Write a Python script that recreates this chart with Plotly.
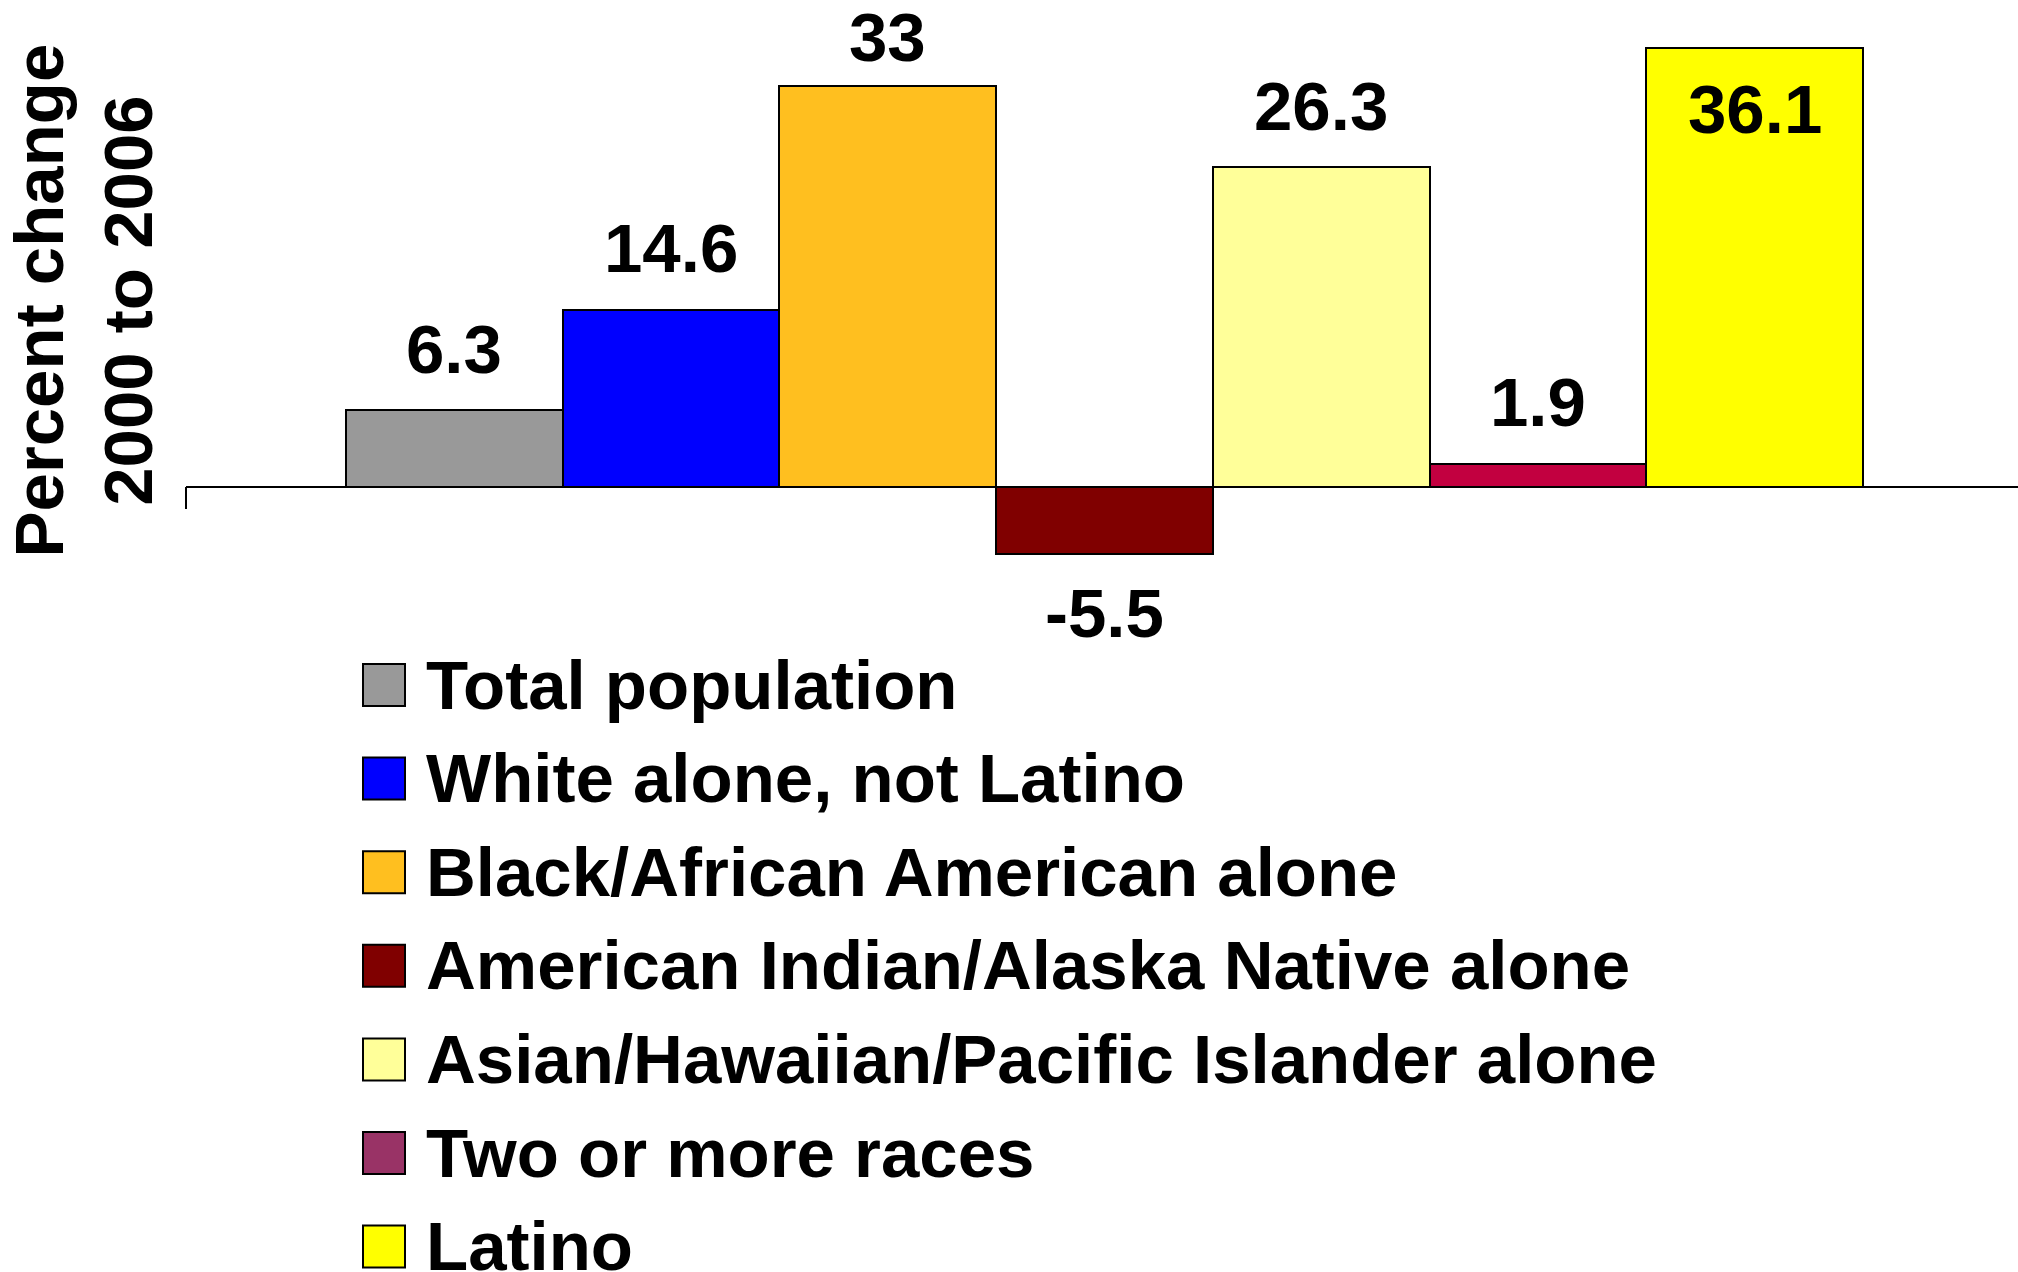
import plotly.graph_objects as go

# ---- data ----
categories = [
    "Total population",
    "White alone, not Latino",
    "Black/African American alone",
    "American Indian/Alaska Native alone",
    "Asian/Hawaiian/Pacific Islander alone",
    "Two or more races",
    "Latino",
]
values = [6.3, 14.6, 33, -5.5, 26.3, 1.9, 36.1]
bar_colors = ["#999999", "#0000FF", "#FFBF1F", "#800000", "#FFFF99", "#C20040", "#FFFF00"]
legend_colors = ["#999999", "#0000FF", "#FFBF1F", "#800000", "#FFFF99", "#993366", "#FFFF00"]
y_title = "Percent change<br>2000 to 2006"

# ---- layout constants (pixels) ----
W, H = 2018, 1272
L = 186
PLOT_TOP, PLOT_BOTTOM = 0, 680
ZERO_PX = 487
PX_PER_UNIT = 12.15
BAR_PX = 216.7
FONT = "Liberation Sans, Arial, sans-serif"
FS = 69

plot_w = W - L
plot_h = PLOT_BOTTOM - PLOT_TOP
y_top = (ZERO_PX - PLOT_TOP) / PX_PER_UNIT
y_bot = -(PLOT_BOTTOM - ZERO_PX) / PX_PER_UNIT
first_left_px = 346
x_left = -0.5 - (first_left_px - L) / BAR_PX
x_right = x_left + plot_w / BAR_PX


def px_to_paper_x(px):
    return (px - L) / plot_w


def px_to_paper_y(py):
    return (PLOT_BOTTOM - py) / plot_h


fig = go.Figure()
fig.add_trace(go.Bar(
    x=categories,
    y=values,
    marker=dict(color=bar_colors, line=dict(color="#000000", width=2)),
    showlegend=False,
    hoverinfo="x+y",
))

annotations = []
# value labels
for cat, v in zip(categories, values):
    if v >= 0:
        top_px = ZERO_PX - v * PX_PER_UNIT
        center = top_px - 61
        if center < 0:
            center = top_px + 61
        elif center < 37.5:
            center = 37.5
    else:
        bottom_px = ZERO_PX - v * PX_PER_UNIT
        center = bottom_px + 59.5
    annotations.append(dict(
        x=cat, y=(ZERO_PX - center) / PX_PER_UNIT, xref="x", yref="y",
        text=f"{v:g}", showarrow=False, xanchor="center", yanchor="middle",
        font=dict(family=FONT, size=FS, color="#000000", weight="bold"),
    ))

# y title
annotations.append(dict(
    x=px_to_paper_x(84), y=px_to_paper_y(300.5), xref="paper", yref="paper",
    text=y_title, textangle=-90, showarrow=False, xanchor="center", yanchor="middle",
    font=dict(family=FONT, size=FS, color="#000000", weight="bold"),
))

shapes = []
# left tick below axis
shapes.append(dict(type="line", xref="paper", yref="y", x0=0, x1=0, y0=0,
                   y1=-22 / PX_PER_UNIT, line=dict(color="#000000", width=2)))

# custom legend
LEG_X0, LEG_SW = 363, 42
LEG_TEXT_X = 424
LEG_Y0, LEG_STEP = 685, 93.6
for i, (name, col) in enumerate(zip(categories, legend_colors)):
    cy = LEG_Y0 + i * LEG_STEP
    shapes.append(dict(
        type="rect", xref="paper", yref="paper",
        x0=px_to_paper_x(LEG_X0), x1=px_to_paper_x(LEG_X0 + LEG_SW),
        y0=px_to_paper_y(cy + LEG_SW / 2), y1=px_to_paper_y(cy - LEG_SW / 2),
        fillcolor=col, line=dict(color="#000000", width=2),
    ))
    annotations.append(dict(
        x=px_to_paper_x(LEG_TEXT_X), y=px_to_paper_y(cy), xref="paper", yref="paper",
        text=name, showarrow=False, xanchor="left", yanchor="middle",
        font=dict(family=FONT, size=FS, color="#000000", weight="bold"),
    ))

fig.update_layout(
    width=W, height=H,
    margin=dict(l=L, r=0, t=PLOT_TOP, b=H - PLOT_BOTTOM, pad=0),
    paper_bgcolor="#FFFFFF", plot_bgcolor="#FFFFFF",
    bargap=0, showlegend=False,
    xaxis=dict(range=[x_left, x_right], showticklabels=False, ticks="",
               showgrid=False, zeroline=False, showline=False),
    yaxis=dict(range=[y_bot, y_top], showticklabels=False, ticks="",
               showgrid=False, zeroline=True, zerolinecolor="#000000",
               zerolinewidth=2, showline=False),
    annotations=annotations,
    shapes=shapes,
)

fig.write_html(
    "out.html",
    config={"displayModeBar": False},
    post_script="document.body.style.margin='0';document.body.style.overflow='hidden';",
)
